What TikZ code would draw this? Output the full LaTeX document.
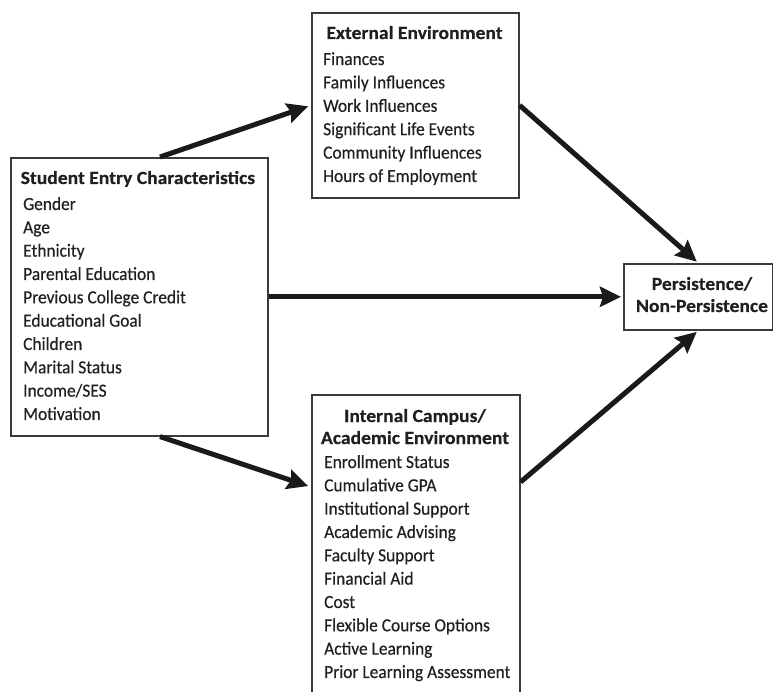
\documentclass[tikz,border=0pt]{standalone}
\usepackage{fontspec}
\setmainfont{Carlito}[FakeStretch=0.94, FakeBold=0.4, BoldFeatures={FakeStretch=1.06}]
\usetikzlibrary{arrows.meta,calc}
\definecolor{ink}{HTML}{231F20}
\definecolor{frame}{HTML}{3A3A3A}
\definecolor{arrowc}{HTML}{1A1A1A}
\tikzset{
  box/.style={draw=frame, line width=1.6pt, fill=white, inner sep=0pt, anchor=north west},
  item/.style={font=\fontsize{18.5}{22}\selectfont, text=ink, inner sep=0pt, anchor=base west},
  head/.style={font=\bfseries\fontsize{18.5}{22}\selectfont, text=ink, inner sep=0pt},
  flow/.style={line width=5pt, draw=arrowc, -{Stealth[length=21pt,width=20pt,inset=3pt]}}
}
\begin{document}
\begin{tikzpicture}[x=1pt,y=-1pt]
\useasboundingbox (0,0) rectangle (773,692);
\fill[white] (0,0) rectangle (773,692);
\clip (0,0) rectangle (773,692);
% boxes
\node[box, minimum width=257pt, minimum height=278pt] (stu) at (10,157) {};
\node[box, minimum width=207pt, minimum height=185pt] (ext) at (311,12) {};
\node[box, minimum width=208pt, minimum height=320pt] (int) at (311,394) {};
\node[box, minimum width=149pt, minimum height=66pt] (pers) at (623,263) {};
% student entry
\node[head, anchor=base west] (stuT) at (20.5,184) {Student Entry Characteristics};
\foreach \t [count=\i] in {Gender,Age,Ethnicity,Parental Education,Previous College Credit,Educational Goal,Children,Marital Status,Income/SES,Motivation}
  \node[item] (stu\i) at (23,{210+23.33*(\i-1)}) {\t};
% external
\node[head, anchor=base] (extT) at (414.5,39) {External Environment};
\foreach \t [count=\i] in {Finances,Family Influences,Work Influences,Significant Life Events,Community Influences,Hours of Employment}
  \node[item] (ext\i) at (323,{65+23.4*(\i-1)}) {\t};
% internal
\node[head, anchor=base] (intT1) at (415,422) {Internal Campus/};
\node[head, anchor=base] (intT2) at (415,444) {Academic Environment};
\foreach \t [count=\i] in {Enrollment Status,Cumulative GPA,Institutional Support,Academic Advising,Faculty Support,Financial Aid,Cost,Flexible Course Options,Active Learning,Prior Learning Assessment}
  \node[item] (int\i) at (324,{468+23.33*(\i-1)}) {\t};
% outcome
\node[head, anchor=base] (persT1) at (702,290) {Persistence/};
\node[head, anchor=base] (persT2) at (702,312) {Non-Persistence};
% connectors
\draw[flow, shorten >=3pt] ($(stu.north west)!0.58!(stu.north east)$) -- (ext.west);
\draw[flow, shorten >=3pt] ($(stu.south west)!0.58!(stu.south east)$) -- ($(int.north west)+(0,93)$);
\draw[flow, shorten >=2pt] (stu.east) -- (pers.west);
\draw[flow, shorten >=2pt] (ext.east) -- (pers.north);
\draw[flow, shorten >=2pt] ($(int.north east)+(0,88)$) -- (pers.south);
\end{tikzpicture}
\end{document}
